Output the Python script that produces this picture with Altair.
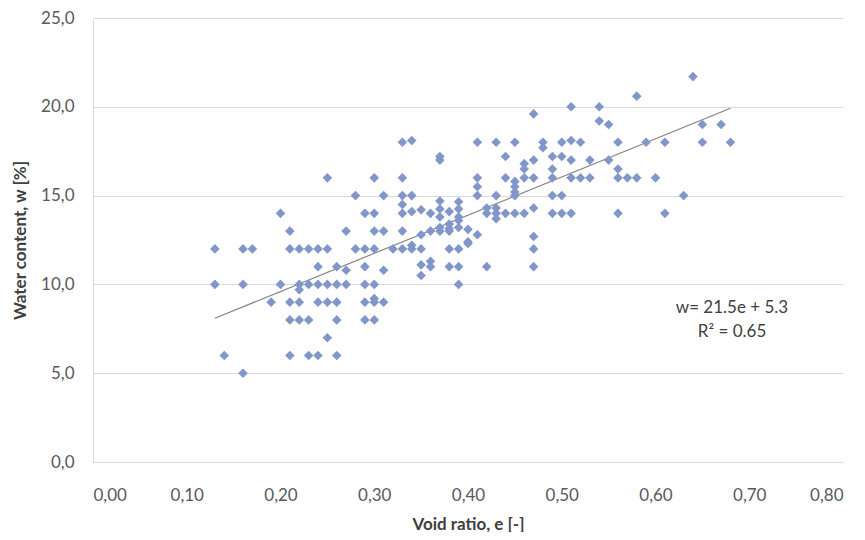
import altair as alt
import pandas as pd

# ---- data ----
void_ratio = (
    [0.13] * 2 + [0.14] * 1 + [0.16] * 3 + [0.17] * 1 + [0.19] * 1 + [0.20] * 2 +
    [0.21] * 5 + [0.22] * 5 + [0.23] * 4 + [0.24] * 5 + [0.25] * 5 + [0.26] * 5 +
    [0.27] * 3 + [0.28] * 2 + [0.29] * 6 + [0.30] * 8 + [0.31] * 4 + [0.32] * 1 +
    [0.33] * 7 + [0.34] * 5 + [0.35] * 5 + [0.36] * 4 + [0.37] * 7 + [0.38] * 6 +
    [0.39] * 8 + [0.40] * 3 + [0.41] * 5 + [0.42] * 3 + [0.43] * 5 + [0.44] * 3 +
    [0.45] * 6 + [0.46] * 4 + [0.47] * 7 + [0.48] * 2 + [0.49] * 5 + [0.50] * 4 +
    [0.51] * 5 + [0.52] * 2 + [0.53] * 2 + [0.54] * 2 + [0.55] * 2 + [0.56] * 4 +
    [0.57] * 1 + [0.58] * 2 + [0.59] * 1 + [0.60] * 1 + [0.61] * 2 + [0.63] * 1 +
    [0.64] * 1 + [0.65] * 2 + [0.67] * 1 + [0.68] * 1
)
water_content = [
    12, 10,                      # 0.13
    6,                           # 0.14
    12, 10, 5,                   # 0.16
    12,                          # 0.17
    9,                           # 0.19
    14, 10,                      # 0.20
    13, 12, 9, 8, 6,             # 0.21
    12, 10, 9.7, 9, 8,           # 0.22
    12, 10, 8, 6,                # 0.23
    12, 11, 10, 9, 6,            # 0.24
    16, 12, 10, 9, 7,            # 0.25
    11, 10, 9, 8, 6,             # 0.26
    13, 10.8, 10,                # 0.27
    15, 12,                      # 0.28
    14, 12, 11, 10, 9, 8,        # 0.29
    16, 14, 13, 12, 10, 9.2, 9, 8,  # 0.30
    15, 13, 10.8, 9,             # 0.31
    12,                          # 0.32
    18, 16, 15, 14.5, 14, 13, 12,   # 0.33
    18.1, 15, 14.1, 12.2, 12,    # 0.34
    14.2, 12.8, 12, 11.1, 10.5,  # 0.35
    14, 13, 11.3, 11,            # 0.36
    17.2, 17, 14.7, 14.25, 13.8, 13.2, 13,  # 0.37
    14.1, 13.4, 13.15, 13, 12, 11,  # 0.38
    14.65, 14.25, 13.8, 13.6, 13.2, 12, 11, 10,  # 0.39
    13.1, 12.4, 12.3,            # 0.40
    18, 16, 15.5, 15, 12.8,      # 0.41
    14.3, 14, 11,                # 0.42
    18, 15, 14.3, 14, 13.7,      # 0.43
    17.2, 16, 14,                # 0.44
    18, 15.8, 15.5, 15.2, 15, 14,   # 0.45
    16.8, 16.5, 16, 14,          # 0.46
    19.6, 17, 16, 14.3, 12.7, 12, 11,  # 0.47
    18, 17.7,                    # 0.48
    17.2, 16.5, 16, 15, 14,      # 0.49
    18, 17.2, 15, 14,            # 0.50
    20, 18.1, 17, 16, 14,        # 0.51
    18, 16,                      # 0.52
    17, 16,                      # 0.53
    20, 19.2,                    # 0.54
    19, 17,                      # 0.55
    18, 16.5, 16, 14,            # 0.56
    16,                          # 0.57
    20.6, 16,                    # 0.58
    18,                          # 0.59
    16,                          # 0.60
    18, 14,                      # 0.61
    15,                          # 0.63
    21.7,                        # 0.64
    19, 18,                      # 0.65
    19,                          # 0.67
    18,                          # 0.68
]

x_ticks = [0.0, 0.1, 0.2, 0.3, 0.4, 0.5, 0.6, 0.7, 0.8]
y_ticks = [0, 5, 10, 15, 20, 25]

trend_e = [0.13, 0.68]
trend_slope = 21.5
trend_intercept = 5.3
equation_lines = ["w= 21.5e + 5.3", "R\u00b2 = 0.65"]

points = pd.DataFrame({"e": void_ratio, "w": water_content})
trend = pd.DataFrame({"e": trend_e})

FONT = "Lato"
LABEL_COLOR = "#595959"
TITLE_COLOR = "#404040"
GRID = "#d9d9d9"

x_scale = alt.Scale(domain=[0, 0.8], nice=False, zero=False)
y_scale = alt.Scale(domain=[0, 25], nice=False, zero=False)

x_axis = alt.Axis(
    values=x_ticks,
    labelExpr="replace(format(datum.value, '.2f'), '.', ',')",
    title="Void ratio, e [-]",
    grid=False,
    ticks=False,
    domainColor=GRID,
    labelFont=FONT,
    labelFontSize=17,
    labelColor=LABEL_COLOR,
    labelPadding=25,
    titleFont=FONT,
    titleFontSize=17,
    titleFontWeight="bold",
    titleColor=TITLE_COLOR,
    titleBaseline="middle",
    titleY=62,
)
y_axis = alt.Axis(
    values=y_ticks,
    labelExpr="replace(format(datum.value, '.1f'), '.', ',')",
    title="Water content, w [%]",
    grid=True,
    gridColor=GRID,
    ticks=False,
    domainColor=GRID,
    labelFont=FONT,
    labelFontSize=17,
    labelColor=LABEL_COLOR,
    labelPadding=19,
    titleFont=FONT,
    titleFontSize=17,
    titleFontWeight="bold",
    titleColor=TITLE_COLOR,
    titleBaseline="middle",
    titleX=-73,
    titleY=222,
)

scatter = alt.Chart(points).mark_point(
    shape="diamond", filled=True, size=92, color="#8196c9", opacity=1
).encode(
    x=alt.X("e:Q", scale=x_scale, axis=x_axis),
    y=alt.Y("w:Q", scale=y_scale, axis=y_axis),
)

line = alt.Chart(trend).transform_calculate(
    w=f"{trend_slope} * datum.e + {trend_intercept}"
).mark_line(color="#858585", strokeWidth=1.2).encode(
    x=alt.X("e:Q", scale=x_scale),
    y=alt.Y("w:Q", scale=y_scale),
)

note_layers = []
for i, txt in enumerate(equation_lines):
    note_layers.append(
        alt.Chart(pd.DataFrame({"label": [txt]})).mark_text(
            font=FONT, fontSize=17, color=TITLE_COLOR, align="center", baseline="middle"
        ).encode(
            x=alt.value(639),
            y=alt.value(290 + 24 * i),
            text="label:N",
        )
    )

chart = alt.layer(line, scatter, *note_layers).properties(
    width=750,
    height=444,
    padding={"left": 85, "top": 10, "right": 14, "bottom": 70},
    autosize=alt.AutoSizeParams(type="none"),
    background="white",
).configure_view(stroke=None)

chart.save("out.html", embed_options={"renderer": "svg", "actions": False})
